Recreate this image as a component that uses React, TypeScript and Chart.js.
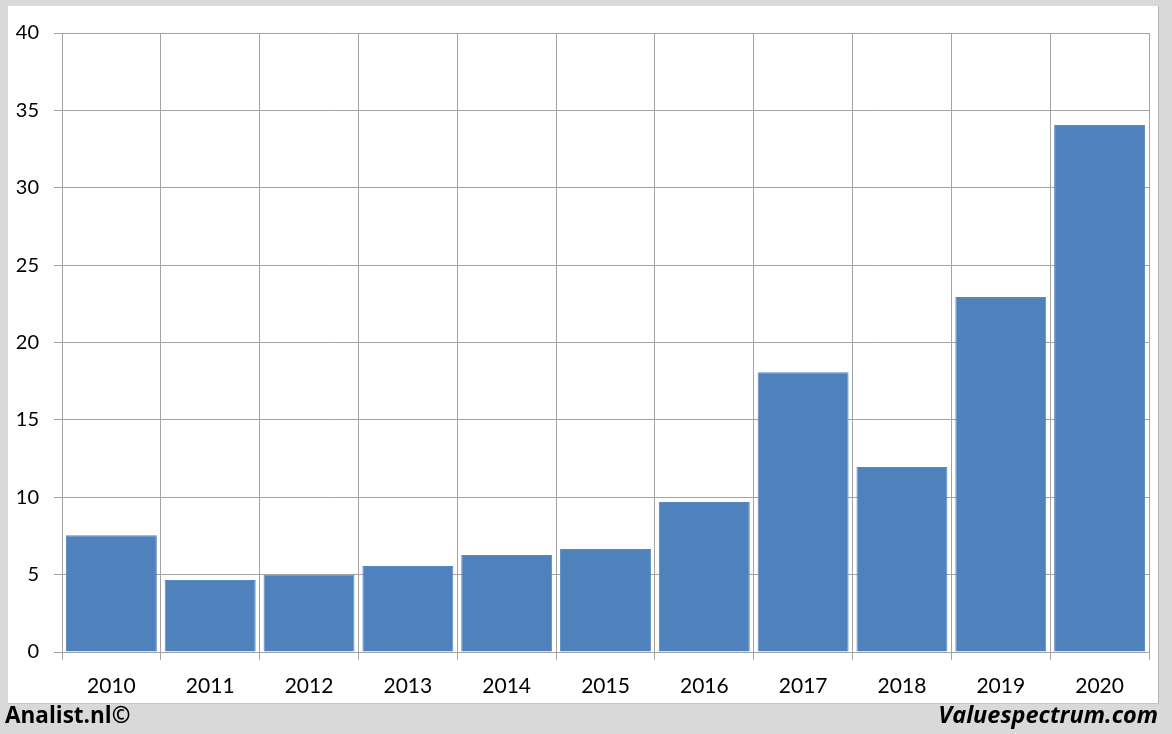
import React, { useEffect, useRef } from "react";
import { Chart, registerables } from "chart.js";

Chart.register(...registerables);

const years = ["2010", "2011", "2012", "2013", "2014", "2015", "2016", "2017", "2018", "2019", "2020"];
const values = [7.55, 4.65, 5.0, 5.56, 6.27, 6.66, 9.69, 18.07, 11.95, 22.94, 34.05];
const yTicks = [0, 5, 10, 15, 20, 25, 30, 35, 40];

const FONT = "Lato, 'Noto Sans', sans-serif";
const FOOT = "'Open Sans', 'Noto Sans', sans-serif";
const GRID = "#a3a3a3";

export default function App() {
  const ref = useRef<HTMLCanvasElement | null>(null);

  useEffect(() => {
    if (!ref.current) return;
    const chart = new Chart(ref.current, {
      type: "bar",
      data: {
        labels: years,
        datasets: [
          {
            data: values,
            backgroundColor: "#4f81bd",
            borderColor: "#5a88c2",
            borderWidth: 1,
            barPercentage: 0.92,
            categoryPercentage: 1,
          },
        ],
      },
      options: {
        animation: false,
        responsive: false,
        maintainAspectRatio: false,
        layout: { padding: { top: 27, right: 9, left: 0, bottom: 0 } },
        plugins: { legend: { display: false }, tooltip: { enabled: false } },
        scales: {
          x: {
            grid: { color: GRID, lineWidth: 1, tickLength: 8, offset: true },
            border: { color: GRID, width: 1 },
            ticks: { color: "#000", font: { family: FONT, size: 21 }, padding: 14, maxRotation: 0 },
            afterFit: (s: any) => { s.height = 51; },
          },
          y: {
            min: 0,
            max: 40,
            afterBuildTicks: (s: any) => { s.ticks = yTicks.map((v) => ({ value: v })); },
            grid: { color: GRID, lineWidth: 1, tickLength: 8 },
            border: { color: GRID, width: 1 },
            ticks: { color: "#000", font: { family: FONT, size: 20 }, padding: 15 },
            afterFit: (s: any) => { s.width = 54; },
          },
        },
      },
    });
    return () => chart.destroy();
  }, []);

  return (
    <div style={{ position: "fixed", left: 0, top: 0, width: 1172, height: 734, background: "#d9d9d9", overflow: "hidden" }}>
      <div style={{ position: "absolute", left: 8, top: 6, width: 1150, height: 697, background: "#fff", borderRight: "1px solid #b5b5b5", borderBottom: "1px solid #c8c8c8" }}>
        <canvas ref={ref} width={1150} height={697} style={{ display: "block" }} />
      </div>
      <div style={{ position: "absolute", left: 5, top: 700, height: 30, lineHeight: "30px", fontFamily: FOOT, fontWeight: 700, fontSize: 22.5, color: "#000", whiteSpace: "nowrap" }}>
        Analist.nl©
      </div>
      <div style={{ position: "absolute", right: 14, top: 699, height: 30, lineHeight: "30px", fontFamily: FOOT, fontWeight: 700, fontStyle: "italic", fontSize: 23.5, color: "#000", whiteSpace: "nowrap" }}>
        Valuespectrum.com
      </div>
    </div>
  );
}
